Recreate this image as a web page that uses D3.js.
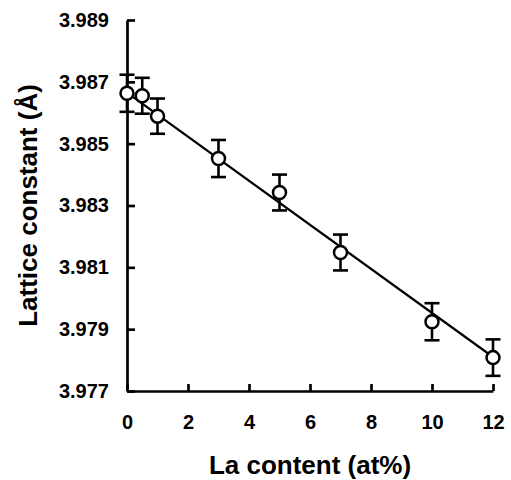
<!DOCTYPE html>
<html>
<head>
<meta charset="utf-8">
<script src="https://cdn.jsdelivr.net/npm/d3@7"></script>
<style>
  body { margin: 0; background: #fff; }
  svg { display: block; font-family: "Liberation Sans", Arial, sans-serif; font-weight: bold; }
</style>
</head>
<body>
<svg id="chart" width="511" height="480"></svg>
<script>
// La content (at%) and measured lattice constant (A)
const laContent = [0, 0.5, 1, 3, 5, 7, 10, 12];
const latticeConst = [3.98663, 3.98655, 3.98589, 3.98452, 3.98342, 3.98148, 3.97924, 3.97808];
const latticeErr = [0.0006, 0.00058, 0.00057, 0.0006, 0.00058, 0.00058, 0.0006, 0.00059];

// linear fit end points
const fitX = [0, 12];
const fitY = [3.98665, 3.9781];

const xTicks = [0, 2, 4, 6, 8, 10, 12];
const yTicks = [3.977, 3.979, 3.981, 3.983, 3.985, 3.987, 3.989];

const width = 511, height = 480;
const margin = { top: 20, right: 18, bottom: 89, left: 127 };

const svg = d3.select("#chart");

const x = d3.scaleLinear().domain([0, 12]).range([margin.left, width - margin.right]);
const y = d3.scaleLinear().domain([3.977, 3.989]).range([height - margin.bottom, margin.top]);

// axes
svg.append("g")
  .attr("transform", `translate(${margin.left},0)`)
  .call(d3.axisLeft(y).tickValues(yTicks).tickFormat(d3.format(".3f"))
    .tickSize(-8).tickSizeOuter(0).tickPadding(18))
  .call((g) => g.selectAll("path, line").attr("stroke", "#000").attr("stroke-width", 2.7))
  .call((g) => g.selectAll("text").attr("fill", "#000").style("font-size", "20px"));

svg.append("g")
  .attr("transform", `translate(0,${height - margin.bottom})`)
  .call(d3.axisBottom(x).tickValues(xTicks).tickFormat(d3.format("d"))
    .tickSize(-7).tickSizeOuter(0).tickPadding(24))
  .call((g) => g.selectAll("path, line").attr("stroke", "#000").attr("stroke-width", 2.7))
  .call((g) => g.selectAll("text").attr("fill", "#000").style("font-size", "20px"));

// fit line
svg.append("path")
  .datum(fitX.map((d, i) => [d, fitY[i]]))
  .attr("fill", "none")
  .attr("stroke", "#000")
  .attr("stroke-width", 2.2)
  .attr("d", d3.line().x((d) => x(d[0])).y((d) => y(d[1])));

// error bars
const data = laContent.map((d, i) => ({ x: d, y: latticeConst[i], e: latticeErr[i] }));
const bars = svg.append("g").attr("stroke", "#000").attr("stroke-width", 2.6);
const cap = 7.5;
data.forEach((d) => {
  const cx = x(d.x);
  bars.append("line").attr("x1", cx).attr("x2", cx).attr("y1", y(d.y + d.e)).attr("y2", y(d.y - d.e));
  bars.append("line").attr("x1", cx - cap).attr("x2", cx + cap).attr("y1", y(d.y + d.e)).attr("y2", y(d.y + d.e));
  bars.append("line").attr("x1", cx - cap).attr("x2", cx + cap).attr("y1", y(d.y - d.e)).attr("y2", y(d.y - d.e));
});

// points
svg.append("g")
  .selectAll("circle")
  .data(data)
  .join("circle")
  .attr("cx", (d) => x(d.x))
  .attr("cy", (d) => y(d.y))
  .attr("r", 6.5)
  .attr("fill", "#fff")
  .attr("stroke", "#000")
  .attr("stroke-width", 2.5);

// axis titles
svg.append("text")
  .attr("x", (margin.left + width - margin.right) / 2)
  .attr("y", 474)
  .attr("text-anchor", "middle")
  .style("font-size", "26px")
  .text("La content (at%)");

svg.append("text")
  .attr("transform", `translate(37,${(margin.top + height - margin.bottom) / 2}) rotate(-90)`)
  .attr("text-anchor", "middle")
  .style("font-size", "26px")
  .text("Lattice constant (Å)");
</script>
</body>
</html>
